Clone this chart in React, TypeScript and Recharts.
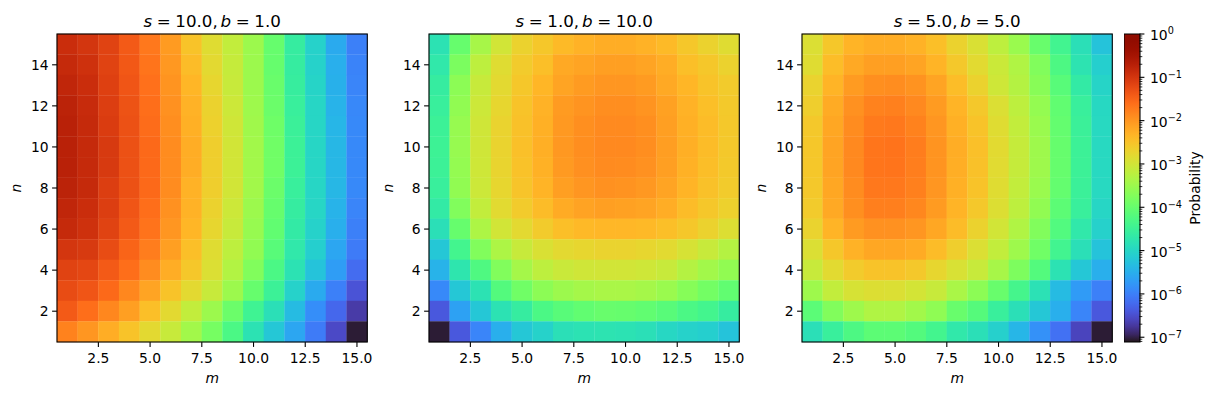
import React from "react";
import {
  ScatterChart,
  ComposedChart,
  Scatter,
  Bar,
  XAxis,
  YAxis,
} from "recharts";

// grid coordinates
const M_VALUES = [1, 2, 3, 4, 5, 6, 7, 8, 9, 10, 11, 12, 13, 14, 15];
const N_VALUES = [1, 2, 3, 4, 5, 6, 7, 8, 9, 10, 11, 12, 13, 14, 15];

const X_TICKS = [2.5, 5, 7.5, 10, 12.5, 15];
const Y_TICKS = [2, 4, 6, 8, 10, 12, 14];
const CBAR_MAJOR = [0, -1, -2, -3, -4, -5, -6, -7];

// colour scale limits (log10 of probability)
const LOG_MIN = -7.11;
const LOG_MAX = 0;

// log10(probability), rows from top (n = 15) to bottom (n = 1), columns m = 1..15
const LOGP_S10_B1 = [
  [-0.9, -1.0, -1.15, -1.4, -1.7, -2.05, -2.5, -2.85, -3.15, -3.5, -4.0, -4.6, -5.05, -5.55, -6.0],
  [-0.85, -0.95, -1.15, -1.38, -1.66, -2.02, -2.42, -2.8, -3.12, -3.5, -4.0, -4.6, -5.05, -5.5, -5.97],
  [-0.8, -0.9, -1.12, -1.35, -1.62, -1.98, -2.35, -2.75, -3.1, -3.5, -3.97, -4.58, -5.02, -5.48, -5.95],
  [-0.75, -0.87, -1.1, -1.32, -1.6, -1.95, -2.3, -2.7, -3.05, -3.48, -3.95, -4.55, -5.0, -5.45, -5.92],
  [-0.72, -0.85, -1.08, -1.3, -1.58, -1.92, -2.28, -2.68, -3.02, -3.47, -3.92, -4.52, -5.0, -5.42, -5.9],
  [-0.72, -0.85, -1.05, -1.3, -1.55, -1.9, -2.25, -2.65, -3.0, -3.45, -3.9, -4.5, -5.0, -5.4, -5.9],
  [-0.72, -0.85, -1.05, -1.3, -1.55, -1.9, -2.25, -2.65, -3.0, -3.45, -3.9, -4.5, -5.0, -5.4, -5.9],
  [-0.75, -0.85, -1.1, -1.3, -1.55, -1.9, -2.3, -2.65, -3.0, -3.45, -3.95, -4.55, -5.0, -5.4, -5.9],
  [-0.8, -0.9, -1.1, -1.35, -1.6, -1.95, -2.3, -2.7, -3.05, -3.5, -4.0, -4.6, -5.0, -5.45, -5.95],
  [-0.85, -0.95, -1.15, -1.4, -1.65, -2.0, -2.35, -2.75, -3.1, -3.55, -4.05, -4.65, -5.05, -5.5, -6.0],
  [-1.0, -1.05, -1.25, -1.5, -1.75, -2.1, -2.45, -2.85, -3.2, -3.6, -4.15, -4.7, -5.1, -5.6, -6.05],
  [-1.15, -1.2, -1.4, -1.6, -1.9, -2.25, -2.55, -2.9, -3.3, -3.75, -4.3, -4.8, -5.25, -5.7, -6.2],
  [-1.25, -1.35, -1.55, -1.85, -2.15, -2.5, -2.8, -3.1, -3.5, -4.0, -4.5, -5.05, -5.55, -6.0, -6.45],
  [-1.4, -1.6, -1.85, -2.1, -2.45, -2.8, -3.15, -3.5, -3.95, -4.45, -4.85, -5.35, -5.85, -6.25, -6.7],
  [-1.8, -2.0, -2.25, -2.5, -2.8, -3.1, -3.45, -3.85, -4.3, -4.8, -5.2, -5.6, -6.05, -6.55, -7.05],
];

const LOGP_S1_B10 = [
  [-4.8, -4.0, -3.4, -3.0, -2.7, -2.55, -2.4, -2.3, -2.25, -2.25, -2.3, -2.4, -2.55, -2.7, -2.85],
  [-4.7, -3.8, -3.2, -2.85, -2.6, -2.45, -2.2, -2.15, -2.1, -2.1, -2.15, -2.25, -2.45, -2.55, -2.7],
  [-4.6, -3.65, -3.1, -2.8, -2.55, -2.35, -2.15, -2.05, -2.0, -2.0, -2.05, -2.2, -2.35, -2.5, -2.6],
  [-4.55, -3.6, -3.05, -2.75, -2.5, -2.3, -2.05, -1.98, -1.92, -1.92, -1.98, -2.12, -2.3, -2.45, -2.58],
  [-4.5, -3.55, -3.02, -2.72, -2.48, -2.28, -2.03, -1.93, -1.88, -1.88, -1.93, -2.1, -2.28, -2.42, -2.57],
  [-4.48, -3.55, -3.02, -2.72, -2.47, -2.27, -2.02, -1.92, -1.87, -1.87, -1.92, -2.08, -2.27, -2.42, -2.57],
  [-4.5, -3.57, -3.03, -2.73, -2.49, -2.29, -2.04, -1.94, -1.89, -1.9, -1.95, -2.1, -2.29, -2.44, -2.58],
  [-4.55, -3.6, -3.05, -2.75, -2.52, -2.32, -2.1, -2.0, -1.95, -1.97, -2.02, -2.15, -2.33, -2.48, -2.6],
  [-4.65, -3.75, -3.15, -2.82, -2.6, -2.42, -2.22, -2.14, -2.1, -2.12, -2.15, -2.25, -2.42, -2.55, -2.68],
  [-4.85, -4.0, -3.35, -3.0, -2.8, -2.6, -2.45, -2.38, -2.36, -2.36, -2.38, -2.45, -2.55, -2.7, -2.88],
  [-5.2, -4.4, -3.75, -3.35, -3.1, -2.92, -2.8, -2.75, -2.72, -2.72, -2.75, -2.82, -2.95, -3.1, -3.28],
  [-5.45, -4.75, -4.25, -3.75, -3.42, -3.2, -3.08, -3.02, -3.0, -3.0, -3.03, -3.1, -3.28, -3.45, -3.6],
  [-5.9, -5.2, -4.8, -4.2, -3.9, -3.65, -3.5, -3.42, -3.38, -3.38, -3.42, -3.52, -3.7, -3.88, -4.05],
  [-6.4, -5.65, -5.2, -4.8, -4.6, -4.3, -4.15, -4.05, -3.98, -4.0, -4.05, -4.15, -4.3, -4.4, -4.6],
  [-7.05, -6.4, -5.95, -5.5, -5.2, -5.05, -4.85, -4.8, -4.78, -4.8, -4.85, -4.98, -5.05, -5.1, -5.25],
];

const LOGP_S5_B5 = [
  [-2.9, -2.55, -2.33, -2.25, -2.25, -2.3, -2.45, -2.7, -2.92, -3.2, -3.52, -3.98, -4.42, -4.85, -5.25],
  [-2.85, -2.43, -2.2, -2.1, -2.1, -2.15, -2.33, -2.57, -2.82, -3.07, -3.32, -3.75, -4.27, -4.78, -5.1],
  [-2.72, -2.33, -2.05, -1.93, -1.91, -1.97, -2.15, -2.43, -2.7, -3.03, -3.28, -3.68, -4.15, -4.65, -5.02],
  [-2.65, -2.22, -1.95, -1.8, -1.78, -1.87, -2.05, -2.33, -2.57, -2.9, -3.2, -3.57, -4.05, -4.55, -4.97],
  [-2.57, -2.18, -1.9, -1.72, -1.7, -1.8, -2.0, -2.28, -2.5, -2.85, -3.15, -3.52, -4.02, -4.52, -4.95],
  [-2.55, -2.15, -1.87, -1.67, -1.65, -1.75, -1.98, -2.25, -2.47, -2.82, -3.12, -3.48, -4.0, -4.5, -4.95],
  [-2.55, -2.15, -1.87, -1.67, -1.66, -1.76, -1.98, -2.26, -2.48, -2.83, -3.12, -3.48, -4.0, -4.5, -4.95],
  [-2.57, -2.18, -1.9, -1.7, -1.7, -1.78, -2.0, -2.28, -2.5, -2.85, -3.15, -3.52, -4.02, -4.52, -4.95],
  [-2.6, -2.2, -1.93, -1.77, -1.77, -1.85, -2.05, -2.32, -2.57, -2.88, -3.2, -3.6, -4.1, -4.55, -5.0],
  [-2.72, -2.33, -2.05, -1.95, -1.95, -2.0, -2.18, -2.42, -2.7, -3.0, -3.32, -3.75, -4.22, -4.7, -5.07],
  [-2.9, -2.55, -2.3, -2.18, -2.18, -2.22, -2.42, -2.65, -2.9, -3.15, -3.48, -3.9, -4.42, -4.85, -5.25],
  [-3.1, -2.82, -2.6, -2.5, -2.5, -2.57, -2.75, -2.93, -3.1, -3.4, -3.78, -4.2, -4.8, -5.2, -5.5],
  [-3.48, -3.15, -2.95, -2.88, -2.9, -2.98, -3.1, -3.38, -3.65, -3.98, -4.38, -4.82, -5.35, -5.72, -6.0],
  [-4.12, -3.75, -3.48, -3.32, -3.32, -3.45, -3.62, -3.98, -4.18, -4.55, -4.85, -5.2, -5.5, -5.95, -6.4],
  [-4.85, -4.55, -4.27, -4.1, -4.1, -4.2, -4.4, -4.7, -4.85, -5.08, -5.42, -5.82, -6.15, -6.6, -7.05],
];

const PANELS = [
  { s: "10.0", b: "1.0", grid: LOGP_S10_B1, left: 57 },
  { s: "1.0", b: "10.0", grid: LOGP_S1_B10, left: 429.4 },
  { s: "5.0", b: "5.0", grid: LOGP_S5_B5, left: 801.8 },
];

// layout
const PLOT_TOP = 34;
const PLOT_W = 310.3;
const PLOT_H = 308;
const Y_AXIS_W = 50;
const X_AXIS_H = 40;
const CHART_H = 395;
const CHART_W = 57 + PLOT_W + 8;
const CELL_W = PLOT_W / M_VALUES.length;
const CELL_H = PLOT_H / N_VALUES.length;
const FONT = 13.9;
const TICK_LINE = { stroke: "#000", strokeWidth: 1.1 };

// centre of the m/n domain, used to anchor the axes frame
const FRAME = [{ m: 8, n: 8 }];

// matplotlib "turbo" (polynomial approximation)
function turbo(t: number) {
  const x = Math.min(1, Math.max(0, t));
  const r = 0.13572138 + x * (4.6153926 + x * (-42.66032258 + x * (132.13108234 + x * (-152.94239396 + x * 59.28637943))));
  const g = 0.09140261 + x * (2.19418839 + x * (4.84296658 + x * (-14.18503333 + x * (4.27729857 + x * 2.82956604))));
  const b = 0.1066733 + x * (12.64194608 + x * (-60.58204836 + x * (110.36276771 + x * (-89.90310912 + x * 27.34824973))));
  const c = (v: number) => Math.round(255 * Math.min(1, Math.max(0, v)));
  return `rgb(${c(r)},${c(g)},${c(b)})`;
}

const colorFor = (p: number) => turbo((Math.log10(p) - LOG_MIN) / (LOG_MAX - LOG_MIN));

const cellShape = (props: any) => {
  const { cx, cy, payload } = props;
  return (
    <rect
      x={cx - CELL_W / 2 - 0.15}
      y={cy - CELL_H / 2 - 0.15}
      width={CELL_W + 0.3}
      height={CELL_H + 0.3}
      fill={colorFor(payload.p)}
    />
  );
};

const frameShape = (props: any) => {
  const { cx, cy } = props;
  return (
    <rect
      x={cx - PLOT_W / 2}
      y={cy - PLOT_H / 2}
      width={PLOT_W}
      height={PLOT_H}
      fill="none"
      stroke="#000"
      strokeWidth={1.1}
    />
  );
};

function Heatmap({ panel }: { panel: (typeof PANELS)[number] }) {
  const data = panel.grid.flatMap((row, i) =>
    row.map((lp, j) => ({
      m: M_VALUES[j],
      n: N_VALUES[N_VALUES.length - 1 - i],
      p: Math.pow(10, lp),
    }))
  );
  const cx = 57 + PLOT_W / 2;

  return (
    <div style={{ position: "absolute", left: panel.left - 57, top: 0, width: CHART_W, height: CHART_H }}>
      <ScatterChart
        width={CHART_W}
        height={CHART_H}
        margin={{ top: PLOT_TOP, right: 8, bottom: CHART_H - PLOT_TOP - PLOT_H - X_AXIS_H, left: 57 - Y_AXIS_W }}
      >
        <XAxis
          type="number"
          dataKey="m"
          domain={[0.5, 15.5]}
          ticks={X_TICKS}
          interval={0}
          tickFormatter={(v: number) => v.toFixed(1)}
          height={X_AXIS_H}
          tickSize={4.9}
          tickMargin={6}
          axisLine={false}
          tickLine={TICK_LINE}
          tick={{ fill: "#000", fontSize: FONT }}
        />
        <YAxis
          type="number"
          dataKey="n"
          domain={[0.5, 15.5]}
          ticks={Y_TICKS}
          interval={0}
          width={Y_AXIS_W}
          tickSize={4.9}
          tickMargin={3.5}
          axisLine={false}
          tickLine={TICK_LINE}
          tick={{ fill: "#000", fontSize: FONT }}
        />
        <Scatter data={data} shape={cellShape} isAnimationActive={false} />
        <Scatter data={FRAME} shape={frameShape} isAnimationActive={false} />
      </ScatterChart>
      <svg
        width={CHART_W}
        height={CHART_H}
        style={{ position: "absolute", left: 0, top: 0, overflow: "visible", pointerEvents: "none" }}
      >
        <text x={cx} y={26.7} textAnchor="middle" fontSize={16.7} fill="#000">
          <tspan fontStyle="italic">s</tspan>
          <tspan dx={4.6}>=</tspan>
          <tspan dx={4.6}>{panel.s + ","}</tspan>
          <tspan dx={2.8} fontStyle="italic">b</tspan>
          <tspan dx={4.6}>=</tspan>
          <tspan dx={4.6}>{panel.b}</tspan>
        </text>
        <text x={cx} y={382.7} textAnchor="middle" fontSize={FONT} fontStyle="italic" fill="#000">
          m
        </text>
        <text
          transform={`translate(20.5,${PLOT_TOP + PLOT_H / 2}) rotate(-90)`}
          textAnchor="middle"
          fontSize={FONT}
          fontStyle="italic"
          fill="#000"
        >
          n
        </text>
      </svg>
    </div>
  );
}

// colorbar ticks: majors at every decade, minors at 2..9 x 10^k
const CBAR_TICKS = [
  ...CBAR_MAJOR,
  ...[-8, -7, -6, -5, -4, -3, -2, -1].flatMap((e) =>
    [2, 3, 4, 5, 6, 7, 8, 9].map((k) => e + Math.log10(k))
  ),
].filter((v) => v >= LOG_MIN && v <= LOG_MAX);

// the colorbar is one range bar spanning the colour scale
const CBAR_DATA = [{ name: "Probability", range: [LOG_MIN, LOG_MAX] }];

const CbarTick = (props: any) => {
  const { x, y, payload } = props;
  const v = payload.value as number;
  const major = Math.abs(v - Math.round(v)) < 1e-6;
  const exp = Math.round(v);
  return (
    <g>
      <line
        x1={x}
        x2={x + (major ? 4.9 : 2.8)}
        y1={y}
        y2={y}
        stroke="#000"
        strokeWidth={major ? 1.1 : 0.8}
      />
      {major && (
        <text x={x + 10.5} y={y + 6} fontSize={FONT} fill="#000">
          10
          <tspan dy={-5.6} fontSize={9.7}>
            {exp === 0 ? "0" : "\u2212" + Math.abs(exp)}
          </tspan>
        </text>
      )}
    </g>
  );
};

const CBAR_LEFT = 1124.3;
const CBAR_W = 15.5;
const CBAR_CHART_W = 88;

function Colorbar() {
  const stops = Array.from({ length: 41 }, (_, i) => i / 40);
  return (
    <div style={{ position: "absolute", left: CBAR_LEFT, top: 0, width: CBAR_CHART_W, height: CHART_H }}>
      <svg width={0} height={0} style={{ position: "absolute" }}>
        <defs>
          <linearGradient id="turboGradient" x1="0" y1="1" x2="0" y2="0">
            {stops.map((t) => (
              <stop key={t} offset={t} stopColor={turbo(t)} />
            ))}
          </linearGradient>
        </defs>
      </svg>
      <ComposedChart
        width={CBAR_CHART_W}
        height={CHART_H}
        data={CBAR_DATA}
        barCategoryGap={0}
        margin={{ top: PLOT_TOP, right: CBAR_CHART_W - CBAR_W - 50, bottom: CHART_H - PLOT_TOP - PLOT_H, left: 0 }}
      >
        <XAxis type="category" dataKey="name" hide />
        <YAxis
          type="number"
          orientation="right"
          domain={[LOG_MIN, LOG_MAX]}
          ticks={CBAR_TICKS}
          interval={0}
          width={50}
          tickSize={0}
          tickMargin={0}
          axisLine={false}
          tickLine={false}
          tick={CbarTick}
        />
        <Bar
          dataKey="range"
          fill="url(#turboGradient)"
          stroke="#000"
          strokeWidth={1.1}
          isAnimationActive={false}
        />
      </ComposedChart>
      <svg
        width={CBAR_CHART_W}
        height={CHART_H}
        style={{ position: "absolute", left: 0, top: 0, overflow: "visible", pointerEvents: "none" }}
      >
        <text
          transform={`translate(${1200 - CBAR_LEFT},${PLOT_TOP + PLOT_H / 2}) rotate(-90)`}
          textAnchor="middle"
          fontSize={FONT}
          fill="#000"
        >
          Probability
        </text>
      </svg>
    </div>
  );
}

export default function App() {
  return (
    <div
      style={{
        position: "absolute",
        left: 0,
        top: 0,
        width: 1212,
        height: CHART_H,
        background: "#fff",
        fontFamily: "'DejaVu Sans', sans-serif",
      }}
    >
      {PANELS.map((panel) => (
        <Heatmap key={panel.s + panel.b} panel={panel} />
      ))}
      <Colorbar />
    </div>
  );
}
